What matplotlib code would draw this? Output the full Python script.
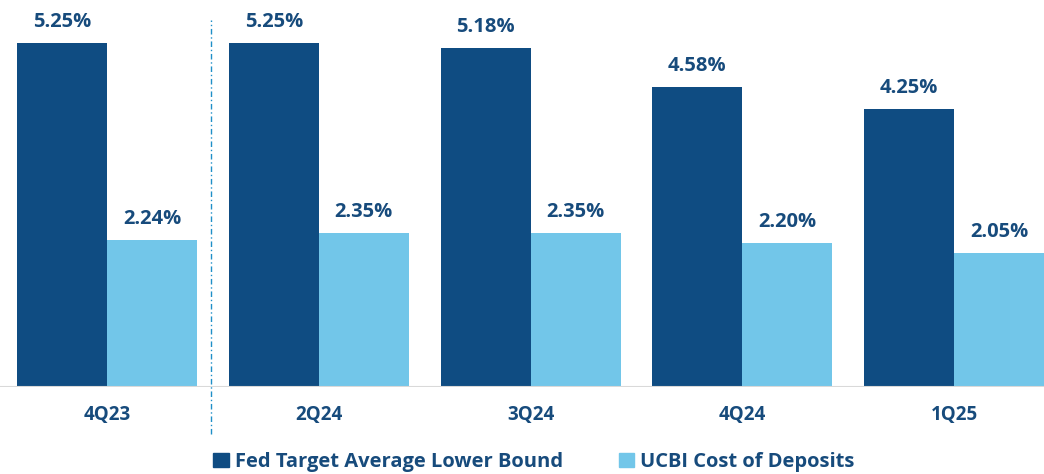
import matplotlib
matplotlib.use("Agg")
import matplotlib.pyplot as plt
from matplotlib.patches import Patch
import numpy as np

categories = ["4Q23", "2Q24", "3Q24", "4Q24", "1Q25"]
fed = [5.25, 5.25, 5.18, 4.58, 4.25]
ucbi = [2.24, 2.35, 2.35, 2.20, 2.05]
series_names = ["Fed Target Average Lower Bound", "UCBI Cost of Deposits"]

dark = "#0F4C82"
light = "#72C6E9"
txt = "#174B7C"

plt.rcParams['font.family'] = ['Open Sans', 'DejaVu Sans']

fig = plt.figure(figsize=(10.44, 4.74), dpi=100)
ax = fig.add_axes([0, 87/474, 1, 387/474])

x = np.arange(len(categories))
w = 0.425
b1 = ax.bar(x - w/2, fed, w, color=dark, zorder=2)
b2 = ax.bar(x + w/2, ucbi, w, color=light, zorder=2)

for rects, vals in ((b1, fed), (b2, ucbi)):
    for rect, v in zip(rects, vals):
        ax.annotate(f"{v:.2f}%", (rect.get_x() + rect.get_width()/2, v), xytext=(0, 8),
                    textcoords="offset points", ha="center", va="bottom",
                    fontsize=14.5, fontweight="bold", color=txt)

ax.set_xlim(-107/211.8, (1044-107)/211.8)
ax.set_ylim(0, 387/65.5)
for s in ax.spines.values():
    s.set_visible(False)
ax.axhline(0, color="#D9D9D9", lw=1.5, zorder=3)
ax.set_yticks([])
ax.set_xticks(x)
ax.set_xticklabels(categories, fontsize=13.5, fontweight="bold", color=txt)
ax.tick_params(axis="x", length=0, pad=13)

ax.axvline(0.5 - 2/211.8, ymin=-47/387, ymax=(387-20)/387, color="#1F8FC8",
           lw=1, ls=(0, (4, 2, 1, 2)), clip_on=False, zorder=1)

handles = [Patch(color=dark), Patch(color=light)]
fig.legend(handles, series_names, loc="center", bbox_to_anchor=(534/1044, 1 - 462/474),
           ncol=2, frameon=False, prop={"size": 14.5, "weight": "bold"},
           labelcolor=txt, handlelength=0.75, handleheight=0.75, handletextpad=0.3,
           columnspacing=2.8)

fig.savefig("out.png", dpi=100)
